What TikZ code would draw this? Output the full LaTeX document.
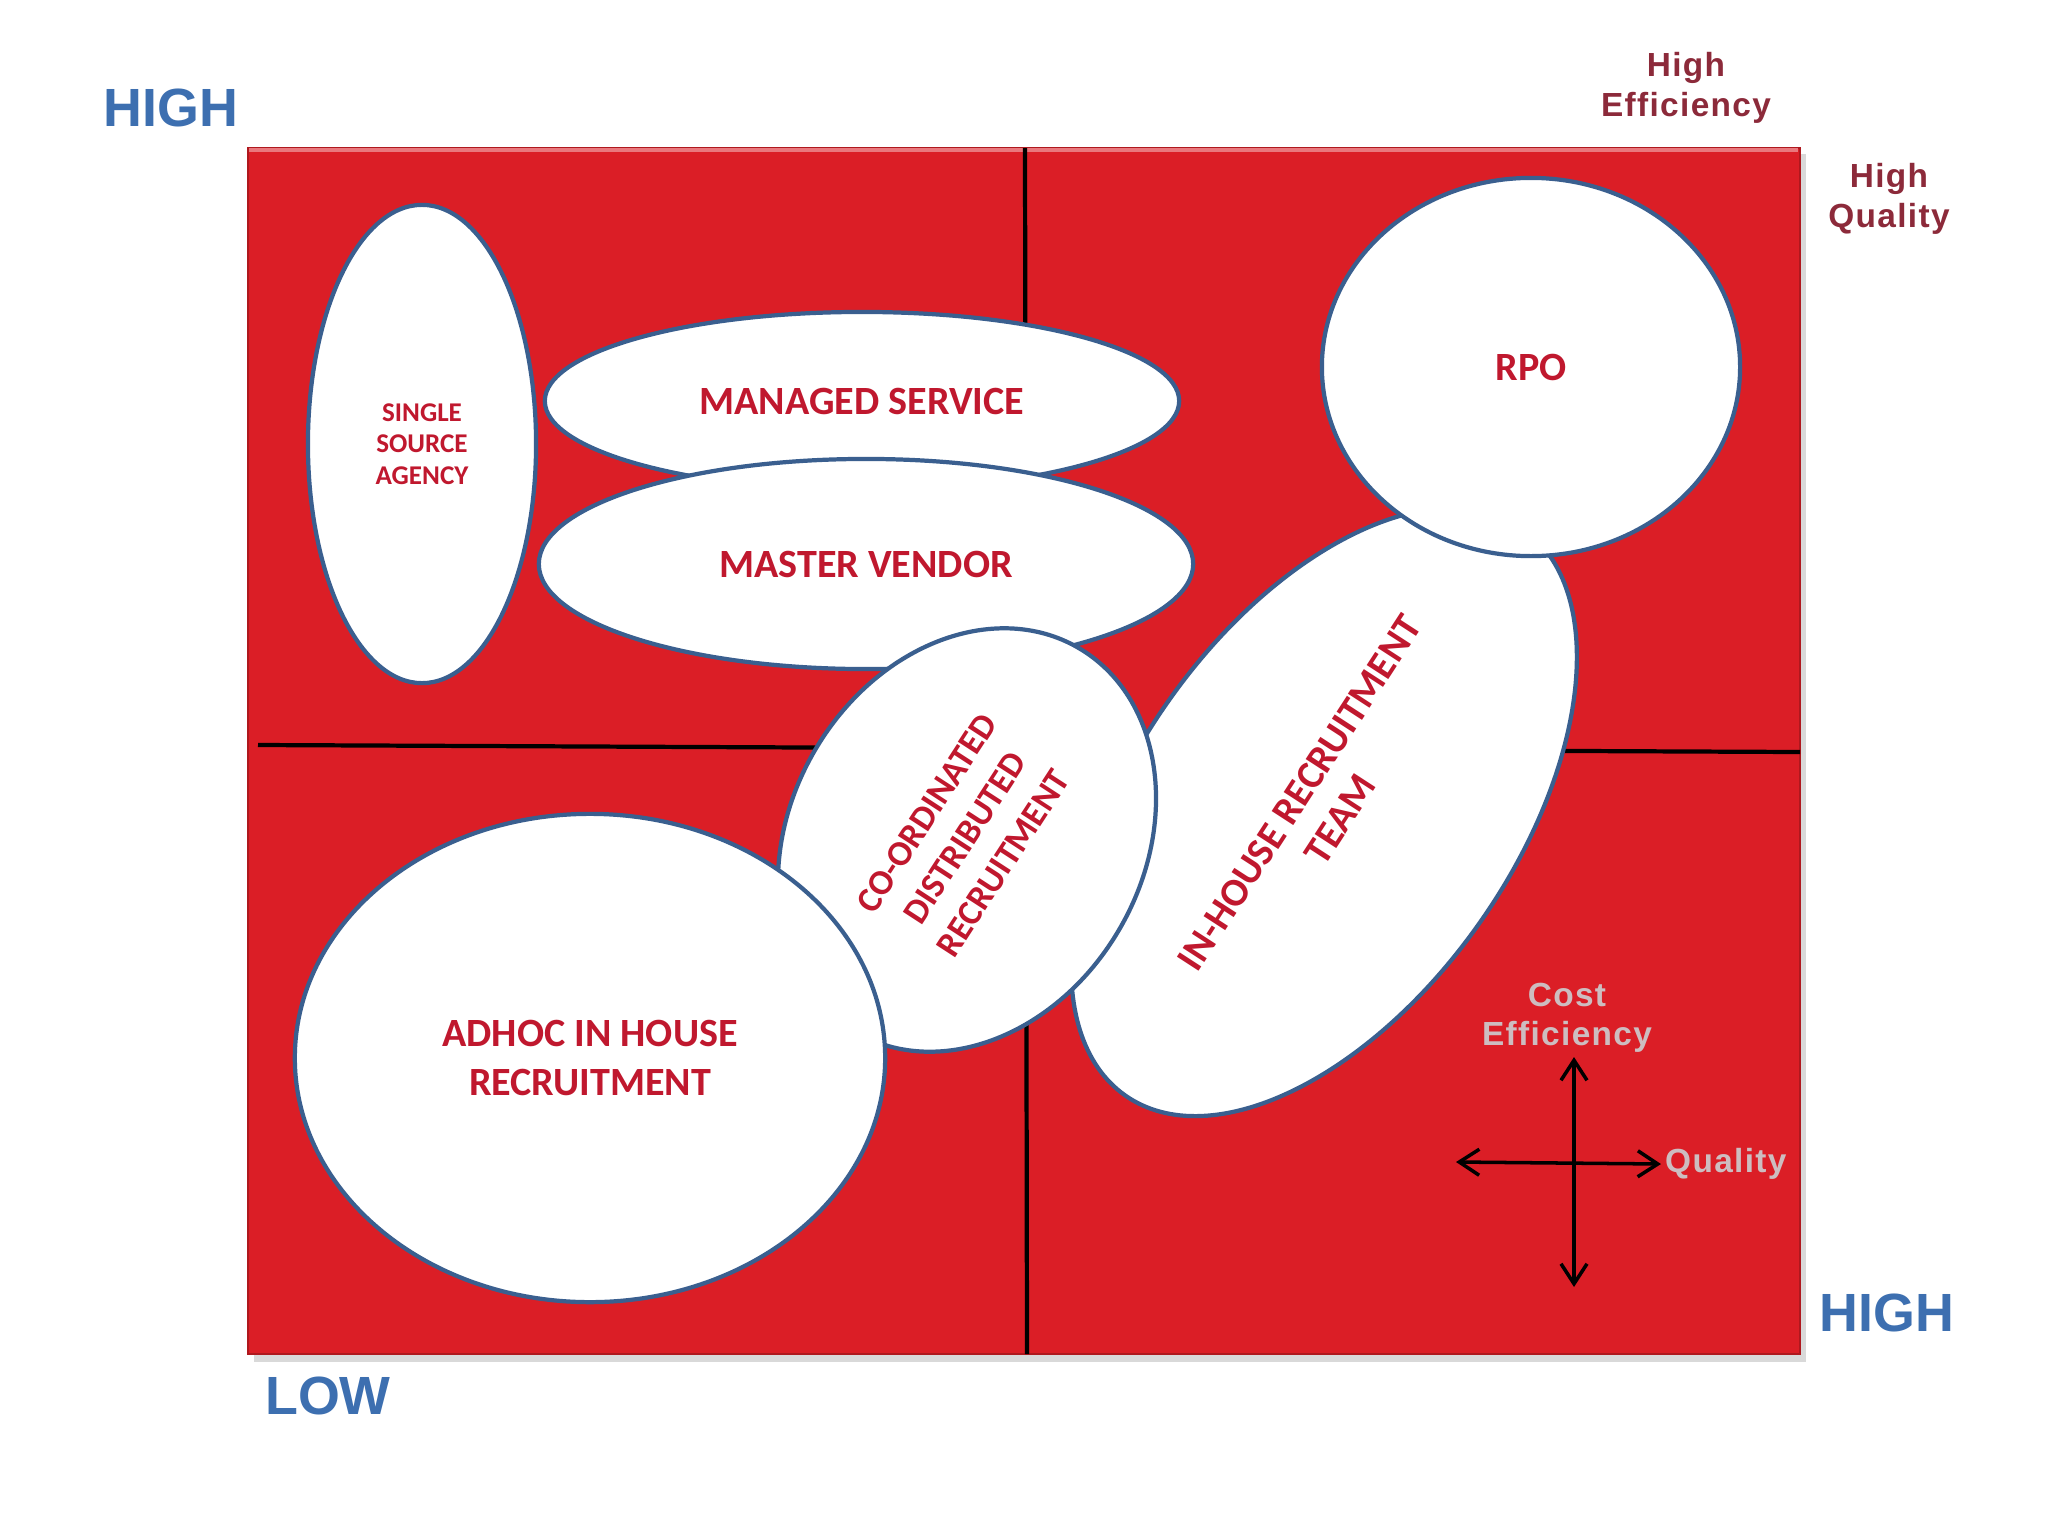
\documentclass[tikz,border=0pt]{standalone}
\usepackage{fontspec}
\setmainfont{Carlito}
\newfontfamily\lib{Liberation Sans}
\newfontfamily\libsp[LetterSpace=4]{Liberation Sans}
\usetikzlibrary{shapes.geometric,arrows.meta}
\definecolor{quadred}{HTML}{DB1E26}
\definecolor{edgeblue}{HTML}{3A5F8F}
\definecolor{labred}{HTML}{C0182E}
\definecolor{axisblue}{HTML}{3D6FB0}
\definecolor{corner}{HTML}{8C2A3A}
\definecolor{legend}{HTML}{CDBDC0}
\tikzset{
  oval/.style={ellipse, draw=edgeblue, line width=1.2pt, fill=white, inner sep=0pt,
    text=labred, font=\bfseries\fontsize{11.4}{13.7}\selectfont, align=center},
  axislab/.style={text=axisblue, font=\lib\bfseries\fontsize{15.3}{17}\selectfont},
  cornerlab/.style={text=corner, font=\libsp\bfseries\fontsize{9.5}{11.2}\selectfont, align=center},
  legendlab/.style={text=legend, font=\libsp\bfseries\fontsize{9.5}{11.2}\selectfont, align=center},
  quadline/.style={line width=1.2pt, black},
  legarrow/.style={line width=1pt, black, {Straight Barb[length=2mm,width=2.6mm]}-{Straight Barb[length=2mm,width=2.6mm]}}
}
\begin{document}
\begin{tikzpicture}[x=0.01cm,y=-0.01cm]
\useasboundingbox[fill=white] (0,0) rectangle (2048,1536);
% shadow and red field
\fill[black!15] (254,154) rectangle (1806,1362);
\fill[quadred] (248,148) rectangle (1800,1354);
\draw[quadred!80!black, line width=0.6pt] (248,148) rectangle (1800,1354);
\draw[quadred!60!white, line width=1pt] (249,150) -- (1798,150);
% quadrant lines
\coordinate (vt) at (1025,148);
\coordinate (vb) at (1027,1354);
\coordinate (hl) at (258,745);
\coordinate (hr) at (1800,752);
\draw[quadline] (vt) -- (vb);
\draw[quadline] (hl) -- (hr);
% ovals
\node[oval, minimum width=2.28cm, minimum height=4.78cm,
  font=\bfseries\fontsize{7.7}{8.9}\selectfont] (single) at (422,444) {SINGLE\\SOURCE\\AGENCY};
\node[oval, minimum width=6.34cm, minimum height=1.78cm] (managed) at (862,401) {MANAGED SERVICE};
\node[oval, minimum width=6.54cm, minimum height=2.10cm] (master) at (866,564) {MASTER VENDOR};
\node[oval, minimum width=6.92cm, minimum height=3.82cm, rotate=55] (inhouse) at (1324,812) {};
\node[oval, minimum width=4.18cm, minimum height=3.78cm] (rpo) at (1531,367) {RPO};
\node[oval, minimum width=4.44cm, minimum height=3.53cm, rotate=60] (coord) at (967,840) {};
\node[oval, minimum width=5.90cm, minimum height=4.88cm] (adhoc) at (590,1058) {ADHOC IN HOUSE\\RECRUITMENT};
% rotated labels
\node[text=labred, font=\bfseries\fontsize{11.3}{13.8}\selectfont, align=center, rotate=57] (inhousetxt) at (1320,806) {IN-HOUSE RECRUITMENT\\TEAM};
\node[text=labred, font=\bfseries\fontsize{10.1}{13}\selectfont, align=center, rotate=57] (coordtxt) at (965,838) {CO-ORDINATED\\DISTRIBUTED\\RECRUITMENT};
% axis labels
\node[axislab] (hightop) at (171,108) {HIGH};
\node[axislab] (highright) at (1887,1313) {HIGH};
\node[axislab] (low) at (328,1396) {LOW};
\node[cornerlab] (higheff) at (1686,88) {High\\Efficiency};
\node[cornerlab] (highqual) at (1889,199) {High\\Quality};
% legend
\node[legendlab, inner sep=1pt] (costeff) at (1567,1018) {Cost\\Efficiency};
\node[legendlab, anchor=west, inner sep=1pt] (quality) at (1661,1164) {Quality};
\coordinate (legleft) at (1456,1162);
\coordinate (legbottom) at (1574,1287);
\draw[legarrow] (legleft) -- (quality.west);
\draw[legarrow] (legbottom) -- (costeff.south -| legbottom);
\end{tikzpicture}
\end{document}
